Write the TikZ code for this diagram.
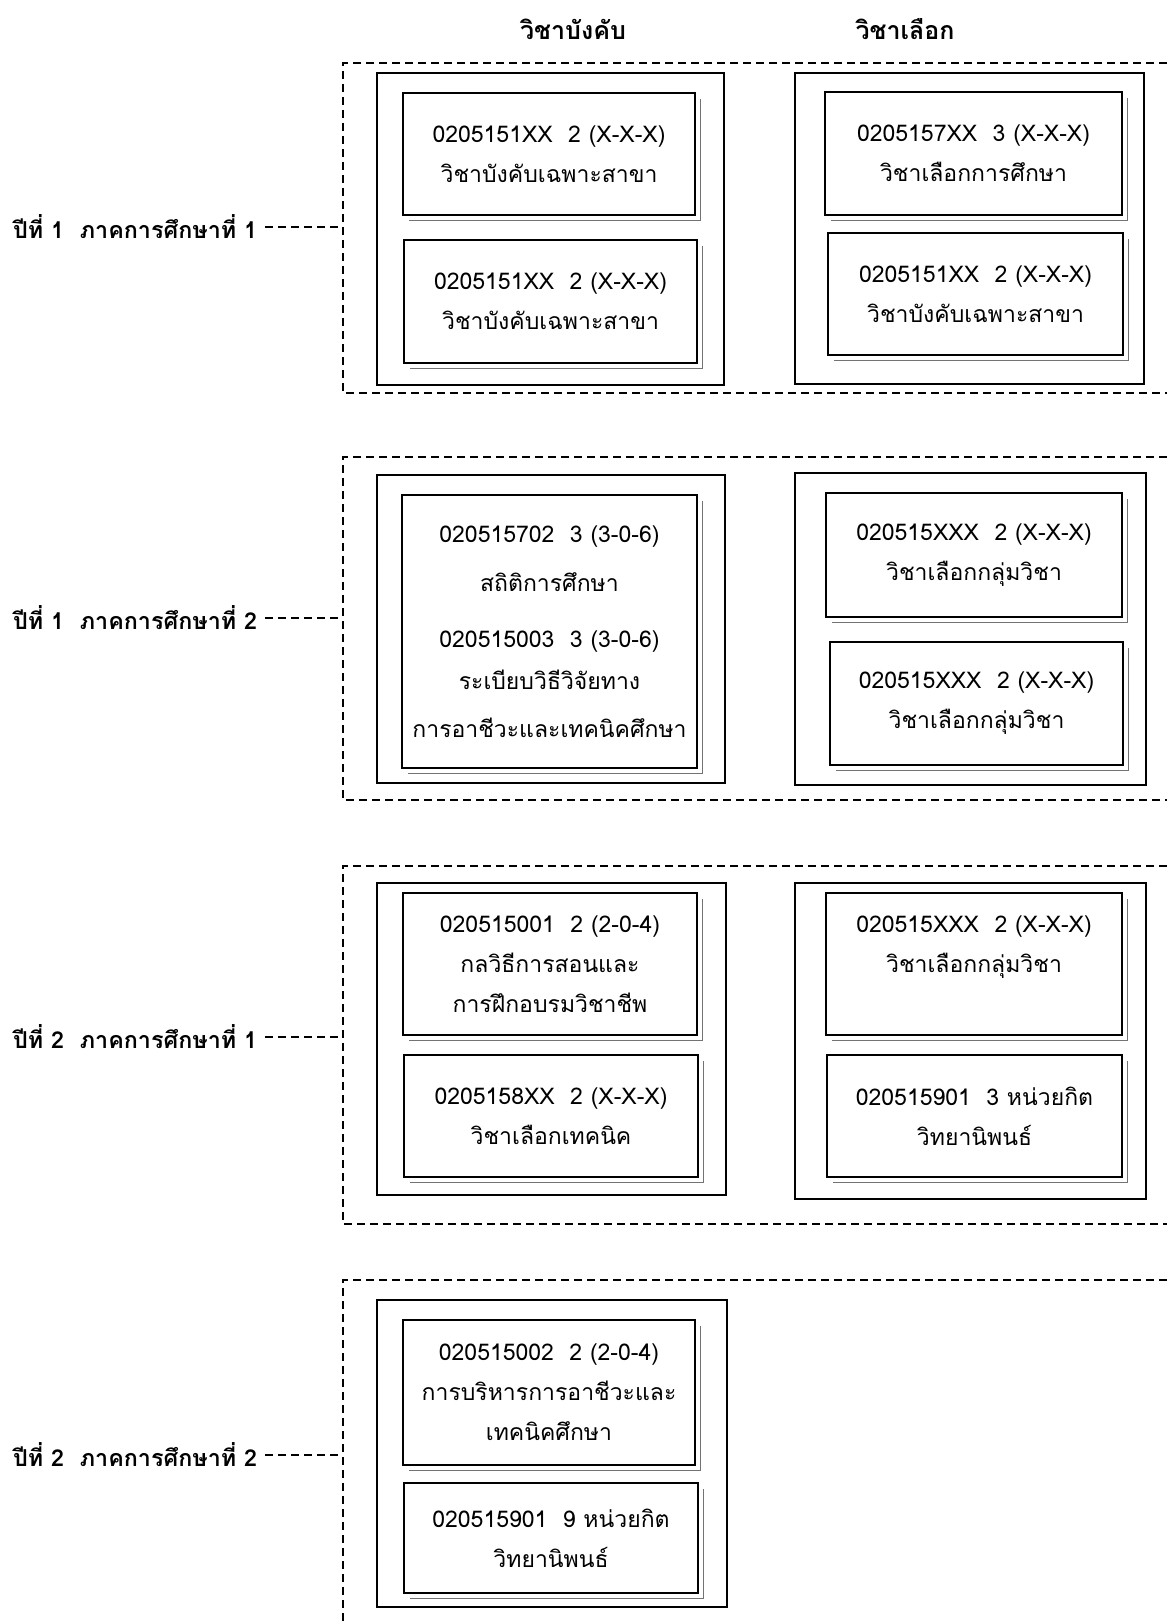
\documentclass[tikz,border=0pt]{standalone}
\usepackage{fontspec}
\setmainfont[Script=Thai]{Loma}

\tikzset{
  course/.style={draw, line width=2.4pt, fill=white, align=center, inner sep=0pt,
    font=\fontsize{23}{40}\selectfont},
  column/.style={line width=2pt},
  group/.style={line width=2pt, dash pattern=on 8pt off 5pt},
  shade/.style={black!55, line width=1.2pt},
  yearlabel/.style={anchor=west, inner sep=0pt, font=\bfseries\fontsize{23.3}{30}\selectfont},
  head/.style={inner sep=0pt, font=\bfseries\fontsize{25}{30}\selectfont}
}

\begin{document}
\begin{tikzpicture}[x=1pt,y=-1pt]
  \useasboundingbox (0,0) rectangle (1167,1621);

  \node[head] (hreq) at (573,29) {วิชาบังคับ};
  \node[head] (hsel) at (905,29) {วิชาเลือก};

  \draw[group] (1167,63) -- (343,63) -- (343,393) -- (1167,393);
  \draw[group] (1167,457) -- (343,457) -- (343,800) -- (1167,800);
  \draw[group] (1167,866) -- (343,866) -- (343,1224) -- (1167,1224);
  \draw[group] (1167,1280) -- (343,1280) -- (343,1621);

  \draw[column] (377,73) rectangle (724,385);
  \draw[column] (795,73) rectangle (1144,384);
  \draw[column] (377,475) rectangle (725,783);
  \draw[column] (795,473) rectangle (1146,785);
  \draw[column] (377,883) rectangle (726,1195);
  \draw[column] (795,883) rectangle (1146,1199);
  \draw[column] (377,1300) rectangle (727,1607);

  \node[course, minimum width=292pt, minimum height=122pt] (a1) at (549,154)
    {0205151XX~~2 (X-X-X)\\ วิชาบังคับเฉพาะสาขา};
  \node[course, minimum width=293pt, minimum height=123pt] (a2) at (550.5,301.5)
    {0205151XX~~2 (X-X-X)\\ วิชาบังคับเฉพาะสาขา};
  \node[course, minimum width=297pt, minimum height=123pt] (b1) at (973.5,153.5)
    {0205157XX~~3 (X-X-X)\\ วิชาเลือกการศึกษา};
  \node[course, minimum width=295pt, minimum height=122pt] (b2) at (975.5,294)
    {0205151XX~~2 (X-X-X)\\ วิชาบังคับเฉพาะสาขา};

  \node[course, minimum width=295pt, minimum height=273pt] (c1) at (549.5,631.5)
    {020515702~~3 (3-0-6)\\[9pt] สถิติการศึกษา\\[16pt] 020515003~~3 (3-0-6)\\[2pt]
     ระเบียบวิธีวิจัยทาง\\[8pt] การอาชีวะและเทคนิคศึกษา};
  \node[course, minimum width=296pt, minimum height=124pt] (d1) at (974,555)
    {020515XXX~~2 (X-X-X)\\ วิชาเลือกกลุ่มวิชา};
  \node[course, minimum width=293pt, minimum height=123pt] (d2) at (976.5,703.5)
    {020515XXX~~2 (X-X-X)\\ วิชาเลือกกลุ่มวิชา};

  \node[course, minimum width=294pt, minimum height=142pt] (e1) at (550,964)
    {020515001~~2 (2-0-4)\\ กลวิธีการสอนและ\\ การฝึกอบรมวิชาชีพ};
  \node[course, minimum width=294pt, minimum height=122pt] (e2) at (551,1116)
    {0205158XX~~2 (X-X-X)\\ วิชาเลือกเทคนิค};
  \node[course, minimum width=296pt, minimum height=142pt] (f1) at (974,964)
    {020515XXX~~2 (X-X-X)\\ วิชาเลือกกลุ่มวิชา\\ \mbox{}};
  \node[course, minimum width=295pt, minimum height=122pt] (f2) at (974.5,1116)
    {020515901~~3 หน่วยกิต\\ วิทยานิพนธ์};

  \node[course, minimum width=292pt, minimum height=145pt] (g1) at (549,1392.5)
    {020515002~~2 (2-0-4)\\ การบริหารการอาชีวะและ\\ เทคนิคศึกษา};
  \node[course, minimum width=294pt, minimum height=110pt] (g2) at (551,1538)
    {020515901~~9 หน่วยกิต\\ วิทยานิพนธ์};

  \foreach \n in {a1,a2,b1,b2,c1,d1,d2,e1,e2,f1,f2,g1,g2}
    \draw[shade] ([xshift=4pt,yshift=-7pt]\n.north east) |- ([xshift=7pt,yshift=-4pt]\n.south west);

  \node[yearlabel] (y1s1) at (13,227) {ปีที่ 1~~ภาคการศึกษาที่ 1};
  \node[yearlabel] (y1s2) at (13,618) {ปีที่ 1~~ภาคการศึกษาที่ 2};
  \node[yearlabel] (y2s1) at (13,1037) {ปีที่ 2~~ภาคการศึกษาที่ 1};
  \node[yearlabel] (y2s2) at (13,1455) {ปีที่ 2~~ภาคการศึกษาที่ 2};

  \coordinate (w1) at (343,227);
  \coordinate (w2) at (343,618);
  \coordinate (w3) at (343,1037);
  \coordinate (w4) at (343,1455);

  \draw[group, shorten <=8pt] (y1s1.east) -- (w1);
  \draw[group, shorten <=8pt] (y1s2.east) -- (w2);
  \draw[group, shorten <=8pt] (y2s1.east) -- (w3);
  \draw[group, shorten <=8pt] (y2s2.east) -- (w4);
\end{tikzpicture}
\end{document}
